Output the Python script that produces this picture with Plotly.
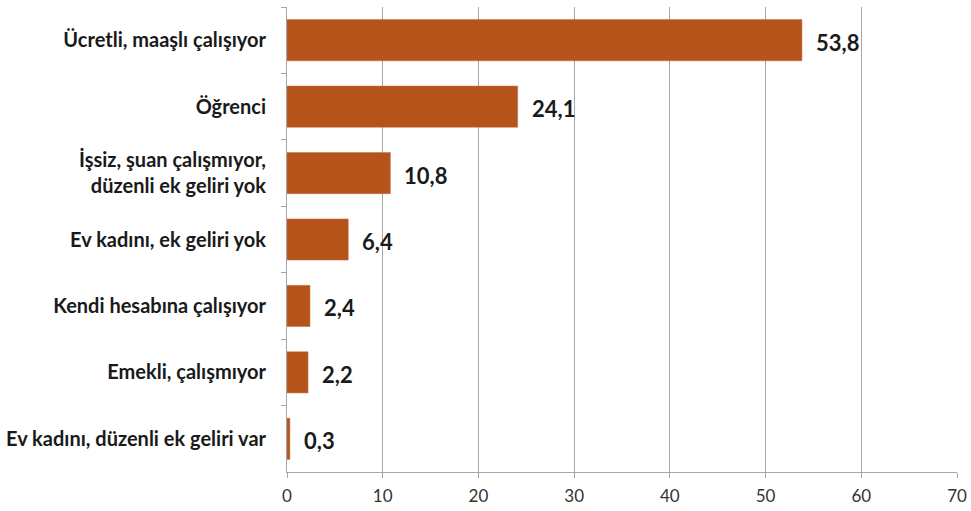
import plotly.graph_objects as go

categories = [
    "Ücretli, maaşlı çalışıyor",
    "Öğrenci",
    "İşsiz, şuan çalışmıyor,<br>düzenli ek geliri yok",
    "Ev kadını, ek geliri yok",
    "Kendi hesabına çalışıyor",
    "Emekli, çalışmıyor",
    "Ev kadını, düzenli ek geliri var",
]
values = [53.8, 24.1, 10.8, 6.4, 2.4, 2.2, 0.3]
value_labels = ["53,8", "24,1", "10,8", "6,4", "2,4", "2,2", "0,3"]
x_ticks = [0, 10, 20, 30, 40, 50, 60, 70]

fig = go.Figure(
    go.Bar(
        x=values,
        y=categories,
        orientation="h",
        marker=dict(color="#B5531A", line=dict(color="#C0703E", width=0.5)),
        hoverinfo="skip",
    )
)

for cat, v, lab in zip(categories, values, value_labels):
    fig.add_annotation(
        x=v, y=cat, text=lab, showarrow=False,
        xanchor="left", xshift=12, yshift=-2,
        font=dict(family="Lato", size=22, color="#1a1a1a", weight="bold"),
    )

fig.update_layout(
    width=971,
    height=511,
    margin=dict(l=287, r=14, t=7, b=39),
    plot_bgcolor="white",
    paper_bgcolor="white",
    bargap=0.38,
    showlegend=False,
    font=dict(family="Lato", color="#222"),
)
fig.update_xaxes(
    range=[0, 70],
    tickvals=x_ticks,
    automargin=False,
    showgrid=True,
    gridcolor="#a6a6a6",
    gridwidth=1,
    showline=True,
    linecolor="#a6a6a6",
    ticks="outside",
    ticklen=5,
    tickcolor="#a6a6a6",
    tickfont=dict(size=17, color="#333"),
    ticklabelstandoff=4,
    zeroline=False,
)
fig.update_yaxes(
    autorange="reversed",
    automargin=False,
    showline=True,
    linecolor="#a6a6a6",
    ticks="outside",
    tickson="boundaries",
    ticklen=5,
    tickcolor="#a6a6a6",
    tickfont=dict(size=20, color="#1a1a1a", weight="bold"),
    ticklabelstandoff=16,
    showgrid=False,
)

fig.write_html("out.html", config={"displayModeBar": False, "staticPlot": True})

with open("out.html", encoding="utf-8") as f:
    html = f.read()
html = html.replace("<body>", '<body style="margin:0;padding:0;overflow:hidden">', 1)
with open("out.html", "w", encoding="utf-8") as f:
    f.write(html)
